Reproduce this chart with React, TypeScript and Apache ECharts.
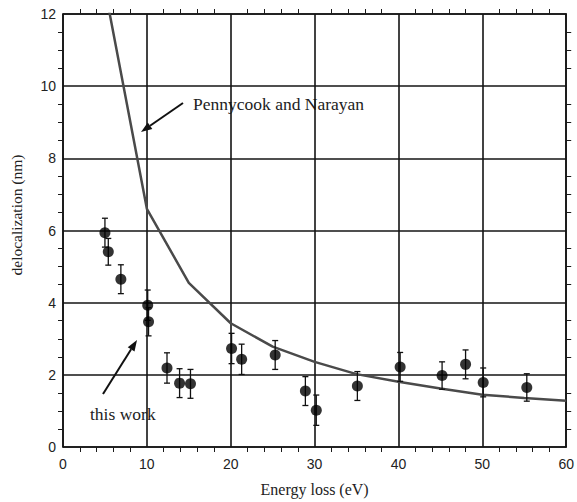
import React, { useEffect, useRef } from "react";
import * as echarts from "echarts";

const energy = [5.0, 5.4, 6.9, 10.1, 10.2, 12.4, 13.9, 15.2, 20.1, 21.3, 25.3, 28.9, 30.2, 35.1, 40.2, 45.2, 48.0, 50.1, 55.3];
const deloc = [5.94, 5.41, 4.65, 3.93, 3.47, 2.19, 1.77, 1.75, 2.73, 2.43, 2.55, 1.55, 1.02, 1.69, 2.22, 1.98, 2.29, 1.79, 1.65];
const errs = [0.4, 0.37, 0.4, 0.42, 0.39, 0.42, 0.4, 0.4, 0.42, 0.42, 0.4, 0.4, 0.42, 0.4, 0.4, 0.38, 0.4, 0.4, 0.38];

const theoryE = [5, 10, 15, 20, 25, 30, 35, 40, 45, 50, 55, 60];
const theoryD = [12.7, 6.6, 4.55, 3.43, 2.78, 2.36, 2.02, 1.81, 1.62, 1.45, 1.36, 1.28];

const xTicks = [0, 10, 20, 30, 40, 50, 60];
const yTicks = [0, 2, 4, 6, 8, 10, 12];

const serif = "'Liberation Serif', 'DejaVu Serif', serif";
const sans = "'Liberation Sans', Arial, sans-serif";

export default function App() {
  const ref = useRef<HTMLDivElement>(null);
  useEffect(() => {
    if (!ref.current) return;
    const chart = echarts.init(ref.current, null, { renderer: "svg" });
    const gridLine = { show: true, lineStyle: { color: "#141414", width: 1.6 } };
    const axisLine = { show: true, onZero: false, lineStyle: { color: "#141414", width: 1.6 } };
    const xBase = {
      type: "value" as const,
      min: xTicks[0],
      max: xTicks[xTicks.length - 1],
      interval: 10,
      axisLine,
      axisTick: { show: false },
      minorTick: { show: true, splitNumber: 5, length: 5, lineStyle: { color: "#1a1a1a", width: 1 } },
    };
    const yBase = {
      type: "value" as const,
      min: yTicks[0],
      max: yTicks[yTicks.length - 1],
      interval: 2,
      axisLine,
      axisTick: { show: false },
      minorTick: { show: true, splitNumber: 4, length: 5, lineStyle: { color: "#1a1a1a", width: 1 } },
    };
    const arrow = (x1: number, y1: number, x2: number, y2: number) => {
      const dx = x2 - x1, dy = y2 - y1;
      const L = Math.sqrt(dx * dx + dy * dy);
      const ux = dx / L, uy = dy / L;
      const hl = 11, hw = 4;
      const bx = x2 - ux * hl, by = y2 - uy * hl;
      return [
        { type: "line", shape: { x1, y1, x2: bx, y2: by }, style: { stroke: "#111", lineWidth: 2 } },
        {
          type: "polygon",
          shape: { points: [[x2, y2], [bx - uy * hw, by + ux * hw], [bx + uy * hw, by - ux * hw]] },
          style: { fill: "#111" },
        },
      ];
    };
    chart.setOption({
      animation: false,
      backgroundColor: "#ffffff",
      grid: { left: 63, right: 8, top: 14, bottom: 55 },
      xAxis: [
        {
          ...xBase,
          position: "bottom",
          splitLine: gridLine,
          axisLabel: { fontFamily: sans, fontSize: 14, color: "#222", margin: 10 },
          name: "Energy loss (eV)",
          nameLocation: "middle",
          nameGap: 34,
          nameTextStyle: { fontFamily: serif, fontSize: 16, color: "#222" },
        },
        { ...xBase, position: "top", splitLine: { show: false }, axisLabel: { show: false } },
      ],
      yAxis: [
        {
          ...yBase,
          position: "left",
          splitLine: gridLine,
          axisLabel: { fontFamily: sans, fontSize: 14, color: "#222", margin: 7 },
        },
        { ...yBase, position: "right", splitLine: { show: false }, axisLabel: { show: false } },
      ],
      series: [
        {
          type: "line",
          data: theoryE.map((e, i) => [e, theoryD[i]]),
          showSymbol: false,
          clip: true,
          lineStyle: { color: "#4a4a4a", width: 2.5 },
          z: 3,
        },
        {
          type: "custom",
          data: energy.map((e, i) => [e, deloc[i] - errs[i], deloc[i] + errs[i]]),
          renderItem: (params: any, api: any) => {
            const lo = api.coord([api.value(0), api.value(1)]);
            const hi = api.coord([api.value(0), api.value(2)]);
            const c = 3;
            const st = { stroke: "#111", lineWidth: 1.3 };
            return {
              type: "group",
              children: [
                { type: "line", shape: { x1: lo[0], y1: lo[1], x2: hi[0], y2: hi[1] }, style: st },
                { type: "line", shape: { x1: lo[0] - c, y1: lo[1], x2: lo[0] + c, y2: lo[1] }, style: st },
                { type: "line", shape: { x1: hi[0] - c, y1: hi[1], x2: hi[0] + c, y2: hi[1] }, style: st },
              ],
            };
          },
          encode: { x: 0, y: [1, 2] },
          z: 4,
        },
        {
          type: "scatter",
          data: energy.map((e, i) => [e, deloc[i]]),
          symbol: "circle",
          symbolSize: 11,
          itemStyle: { color: "#000" },
          z: 5,
        },
      ],
      graphic: [
        ...arrow(183, 103, 141, 132),
        ...arrow(103, 394, 137, 340),
        {
          type: "text",
          x: 193,
          y: 104,
          style: {
            text: "Pennycook and Narayan",
            fontFamily: serif,
            fontSize: 17.5,
            fill: "#222",
            align: "left",
            verticalAlign: "middle",
          },
        },
        {
          type: "text",
          x: 90,
          y: 414,
          style: {
            text: "this work",
            fontFamily: serif,
            fontSize: 17.5,
            fill: "#222",
            align: "left",
            verticalAlign: "middle",
          },
        },
        {
          type: "text",
          x: 16,
          y: 215,
          rotation: Math.PI / 2,
          style: {
            text: "delocalization (nm)",
            fontFamily: serif,
            fontSize: 15.5,
            fill: "#222",
            align: "center",
            verticalAlign: "middle",
          },
        },
      ],
    });
    return () => chart.dispose();
  }, []);
  return (
    <div style={{ position: "fixed", left: 0, top: 0, width: 577, height: 502, background: "#fff" }}>
      <div ref={ref} style={{ width: 577, height: 502 }} />
    </div>
  );
}
